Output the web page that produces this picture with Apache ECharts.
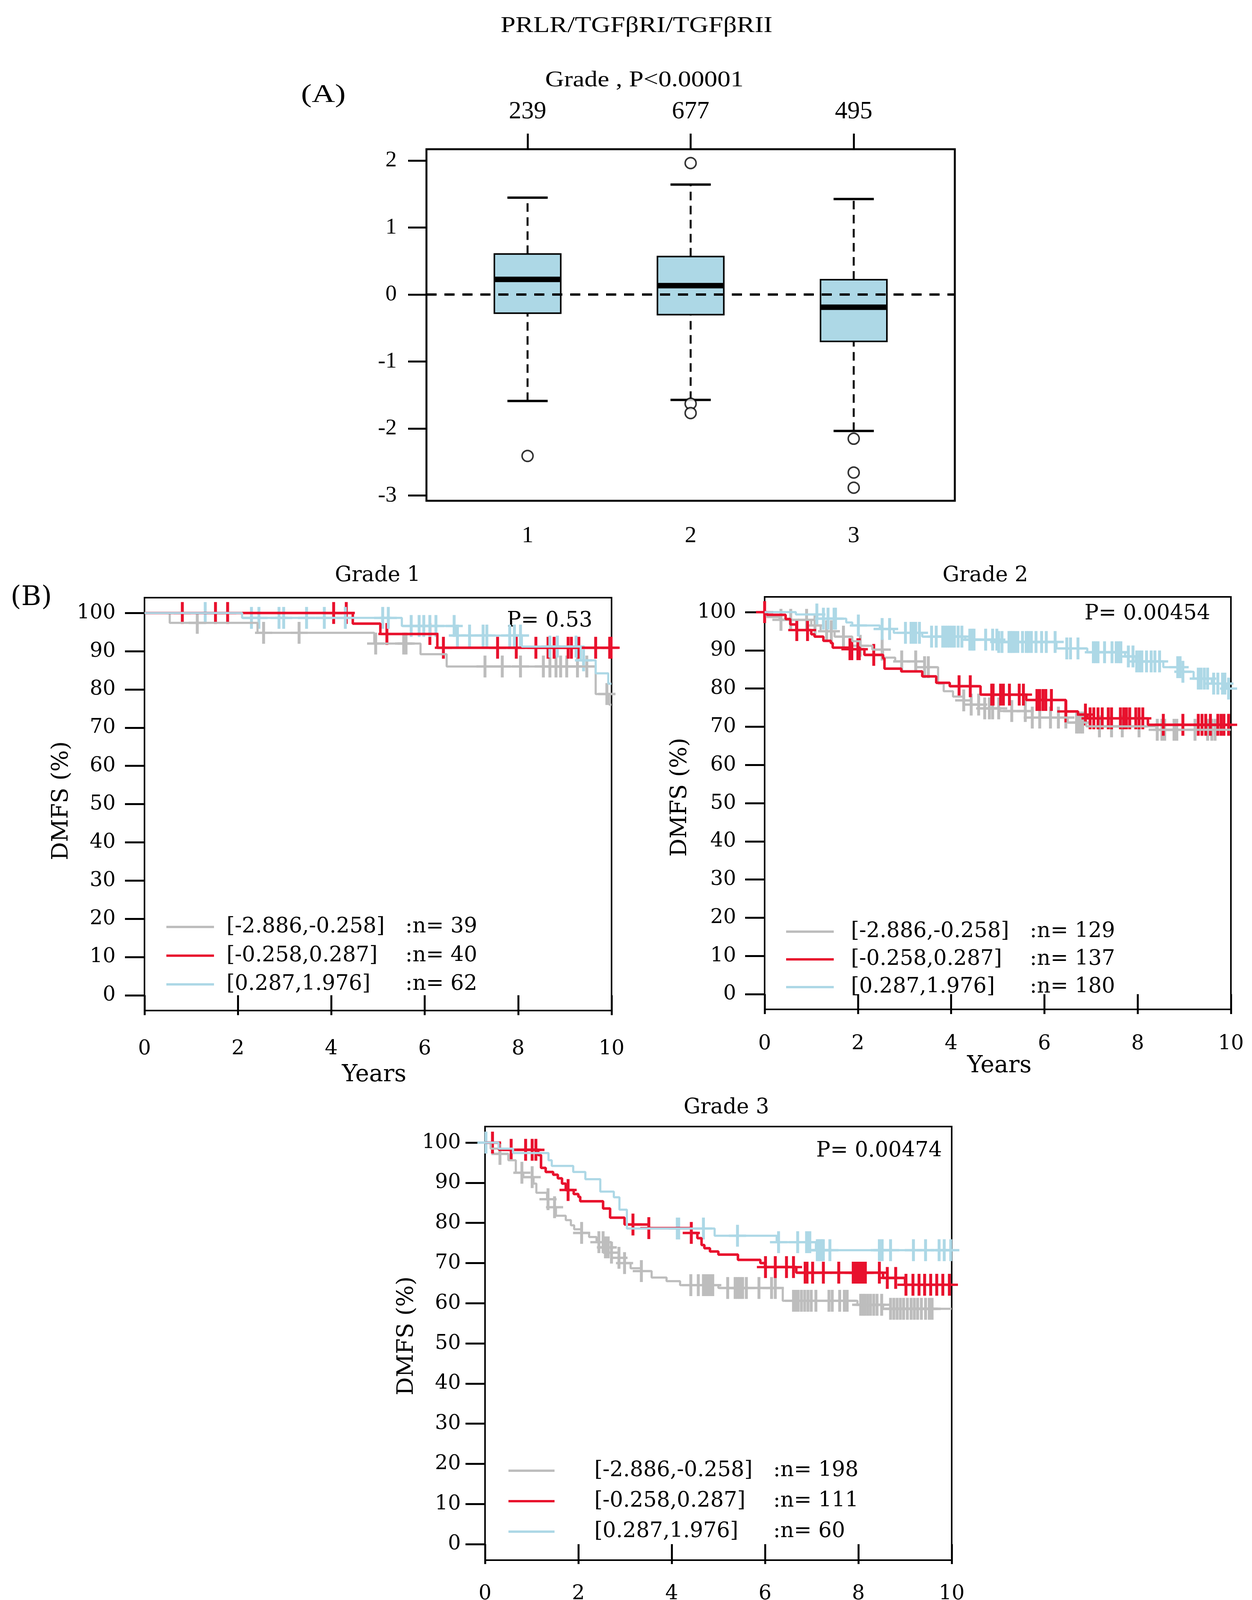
<!DOCTYPE html>
<html>
<head>
<meta charset="utf-8">
<title>PRLR/TGFβRI/TGFβRII</title>
<script src="https://cdn.jsdelivr.net/npm/echarts@6.0.0/dist/echarts.min.js"></script>
<style>
  html, body { margin: 0; padding: 0; background: #fff; }
  #main { width: 3206px; height: 4182px; }
</style>
</head>
<body>
<div id="main"></div>
<script>
// ---- data: (A) boxplot by grade ----
var gradeCats = [1, 2, 3];
var gradeCounts = [239, 677, 495];
var boxLow  = [-1.589, -1.574, -2.037];
var boxQ1   = [-0.279, -0.300, -0.700];
var boxMed  = [0.226, 0.132, -0.189];
var boxQ3   = [0.605, 0.568, 0.221];
var boxHigh = [1.447, 1.642, 1.426];
var outlierX = [1, 2, 2, 2, 3, 3, 3];
var outlierY = [-2.41, 1.963, -1.63, -1.77, -2.153, -2.658, -2.884];
var boxTicks = [-3, -2, -1, 0, 1, 2];

// ---- data: (B) DMFS curves ----
var groupRanges = ["[-2.886,-0.258]", "[-0.258,0.287]", "[0.287,1.976]"];
var g1N = [39, 40, 62];
var g2N = [129, 137, 180];
var g3N = [198, 111, 60];
var pValues = ["P= 0.53", "P= 0.00454", "P= 0.00474"];
var yearTicks = [0, 2, 4, 6, 8, 10];
var dmfsTicks = [0, 10, 20, 30, 40, 50, 60, 70, 80, 90, 100];

// grade 1
var g1GrayT = [0, 0.54, 2.42, 4.92, 5.91, 6.47, 9.66, 9.95];
var g1GrayS = [100, 97.4, 94.8, 92.0, 89.2, 86.0, 78.8, 76.0];
var g1GrayCens = [1.13, 2.55, 3.31, 4.95, 5.55, 5.6, 7.29, 7.66, 8.05, 8.54, 8.68, 8.81, 8.91, 9.04, 9.27, 9.47, 9.9];
var g1RedT = [0, 4.46, 5.05, 6.27];
var g1RedS = [100, 97.2, 94.5, 90.9];
var g1RedCens = [0.81, 1.52, 1.78, 4.05, 4.32, 5.19, 6.11, 6.4, 7.56, 7.96, 8.38, 8.64, 8.77, 9.07, 9.14, 9.3, 9.66, 9.96, 9.99];
var g1BlueT = [0, 2.09, 5.51, 6.67, 8.08, 9.34, 9.66, 9.93];
var g1BlueS = [100, 98.7, 96.6, 94.1, 91.2, 87.6, 84.2, 81.5];
var g1BlueCens = [1.30, 2.29, 2.45, 2.88, 2.98, 3.47, 3.85, 4.3, 5.1, 5.22, 5.71, 5.88, 5.98, 6.11, 6.24, 6.63, 6.7, 6.96, 7.25, 7.33, 7.82, 7.92, 8.05, 8.68, 8.84, 9.24, 9.4];

// grade 2
var g2GrayT = [0, 0.05, 0.32, 1.0, 1.2, 1.5, 1.88, 2.05, 2.31, 2.54, 2.8, 3.25, 3.72, 3.84, 4.04, 4.27, 4.43, 4.72, 5.04, 5.6, 6.5, 6.9, 8.4];
var g2GrayS = [100, 98.7, 98.0, 96.5, 95.0, 93.6, 92.4, 91.2, 90.2, 88.1, 87.1, 85.6, 81.3, 79.3, 77.9, 76.9, 75.8, 74.8, 74.1, 72.4, 71.1, 70.1, 69.2];
var g2GrayCens = [0.35, 0.56, 0.9, 1.08, 1.33, 1.43, 1.69, 2.05, 2.52, 2.94, 3.24, 3.43, 3.51, 4.27, 4.43, 4.59, 4.72, 4.82, 4.89, 5.02, 5.3, 5.59, 5.74, 5.9, 6.13, 6.3, 6.46, 6.69, 6.73, 6.78, 6.82, 7.18, 7.44, 7.67, 8.03, 8.42, 8.52, 8.58, 8.78, 8.84, 9.23, 9.5, 9.59, 9.66];
var g2RedT = [0, 0.05, 0.45, 0.55, 0.68, 1.0, 1.07, 1.26, 1.42, 1.46, 1.82, 2.14, 2.54, 2.57, 2.93, 3.38, 3.68, 3.97, 4.63, 5.61, 6.46, 6.72, 6.92, 8.22];
var g2RedS = [100, 99.3, 98.2, 96.8, 95.3, 94.2, 93.6, 92.5, 91.9, 90.7, 90.3, 88.8, 87.9, 85.2, 84.5, 83.2, 81.5, 80.6, 78.4, 77.0, 74.0, 73.2, 72.2, 70.5];
var g2RedCens = [0.0, 0.69, 0.92, 1.83, 1.87, 2.0, 2.03, 2.34, 4.17, 4.41, 4.87, 4.9, 5.06, 5.12, 5.25, 5.46, 5.55, 5.84, 5.9, 5.97, 6.03, 6.15, 6.46, 6.88, 6.98, 7.06, 7.15, 7.24, 7.37, 7.44, 7.63, 7.7, 7.76, 7.83, 7.96, 8.03, 8.11, 8.55, 8.97, 9.3, 9.38, 9.46, 9.56, 9.72, 9.79, 9.85, 9.95];
var g2BlueT = [0, 0.67, 1.13, 1.75, 1.88, 2.47, 2.77, 3.38, 4.3, 5.0, 6.26, 6.92, 7.73, 7.96, 8.55, 8.97, 9.2, 9.59, 9.9];
var g2BlueS = [100, 99.4, 98.3, 97.3, 96.5, 95.6, 94.6, 93.6, 92.8, 92.2, 90.5, 89.5, 88.4, 87.1, 85.6, 84.4, 82.6, 81.3, 80.0];
var g2BlueCens = [1.12, 1.26, 1.36, 1.49, 1.52, 2.01, 2.52, 2.68, 3.02, 3.14, 3.19, 3.24, 3.32, 3.58, 3.68, 3.82, 3.87, 3.92, 3.97, 4.02, 4.07, 4.15, 4.23, 4.4, 4.45, 4.49, 4.74, 4.89, 4.98, 5.02, 5.09, 5.24, 5.28, 5.32, 5.37, 5.43, 5.53, 5.61, 5.66, 5.72, 5.82, 5.94, 6.04, 6.23, 6.48, 6.56, 6.72, 7.05, 7.1, 7.15, 7.29, 7.45, 7.54, 7.6, 7.64, 7.8, 7.9, 7.98, 8.04, 8.09, 8.19, 8.29, 8.37, 8.47, 8.86, 8.91, 8.97, 9.3, 9.36, 9.43, 9.5, 9.63, 9.72, 9.82, 9.87, 9.95];

// grade 3
var g3GrayT = [0, 0.12, 0.31, 0.5, 0.66, 0.82, 1.04, 1.1, 1.33, 1.49, 1.52, 1.73, 1.84, 1.91, 2.07, 2.23, 2.39, 2.55, 2.71, 2.87, 2.99, 3.12, 3.35, 3.57, 3.89, 4.18, 5.0, 6.38, 7.98, 8.53];
var g3GrayS = [100, 98.5, 97.2, 95.6, 92.5, 91.4, 89.8, 87.5, 85.9, 83.9, 81.8, 80.7, 79.4, 78.4, 77.5, 76.5, 75.2, 73.9, 72.6, 71.3, 70.0, 68.7, 68.0, 66.4, 65.5, 64.5, 63.8, 60.6, 59.6, 58.6];
var g3GrayCens = [0.32, 0.79, 1.01, 1.35, 1.49, 2.07, 2.44, 2.53, 2.58, 2.64, 2.71, 2.87, 2.99, 3.35, 4.41, 4.57, 4.68, 4.73, 4.78, 4.83, 4.88, 5.2, 5.36, 5.41, 5.46, 5.52, 5.6, 5.87, 6.14, 6.22, 6.61, 6.66, 6.71, 6.78, 6.85, 6.92, 6.99, 7.09, 7.37, 7.44, 7.6, 7.7, 7.76, 8.05, 8.1, 8.14, 8.2, 8.26, 8.33, 8.4, 8.5, 8.69, 8.76, 8.83, 8.9, 8.97, 9.05, 9.13, 9.2, 9.27, 9.35, 9.44, 9.52, 9.58];
var g3RedT = [0, 0.3, 1.14, 1.2, 1.3, 1.46, 1.56, 1.65, 1.73, 1.9, 2.0, 2.04, 2.53, 2.68, 2.99, 3.51, 4.42, 4.55, 4.64, 4.7, 4.82, 5.0, 5.42, 5.9, 6.0, 6.67, 8.53, 9.0];
var g3RedS = [100, 98.2, 96.9, 93.7, 92.7, 92.0, 91.1, 89.8, 88.2, 87.2, 86.5, 85.4, 83.6, 81.3, 79.6, 78.7, 77.5, 76.2, 74.5, 73.7, 72.9, 72.1, 70.8, 70.0, 69.0, 67.6, 66.3, 64.6];
var g3RedCens = [0.16, 0.56, 0.87, 1.01, 1.09, 1.78, 3.17, 3.51, 4.42, 6.01, 6.22, 6.46, 6.61, 6.86, 6.9, 7.02, 7.25, 7.58, 7.89, 7.93, 7.97, 8.0, 8.04, 8.08, 8.12, 8.15, 8.45, 8.62, 8.8, 9.02, 9.17, 9.3, 9.42, 9.55, 9.68, 9.81, 9.95];
var g3BlueT = [0, 0.29, 0.6, 1.36, 1.43, 1.89, 2.15, 2.47, 2.76, 2.88, 3.04, 4.92, 6.25, 7.09];
var g3BlueS = [100, 98.5, 97.4, 95.6, 94.2, 92.7, 90.9, 87.8, 86.4, 83.3, 78.6, 76.8, 75.2, 73.2];
var g3BlueCens = [0.02, 4.12, 4.15, 4.68, 5.41, 6.29, 6.7, 6.89, 6.93, 6.96, 7.12, 7.15, 7.19, 7.22, 7.25, 7.39, 8.45, 8.51, 8.69, 9.18, 9.44, 9.73, 9.84, 9.98];

var GRAY = "#bdbdbd", RED = "#e8112d", BLUE = "#add8e6";
var SERIF = "'DejaVu Serif', serif";
var TIMES = "'Liberation Serif', serif";
// censoring "+" mark
var PLUS = "path://M41.5,0H58.5V44.6H100V55.4H58.5V100H41.5V55.4H0V44.6H41.5Z";

var myChart = echarts.init(document.getElementById("main"), null, { renderer: "canvas" });

// KM step value at time t
function survAt(t, times, probs) {
    var s = probs[0];
    for (var i = 0; i < times.length; i++) {
        if (times[i] <= t) s = probs[i];
    }
    return s;
}

function kmSeries(axisIdx, name, color, width, times, probs, cens) {
    var line = times.map(function (t, i) { return [t, probs[i]]; });
    line.push([10, probs[probs.length - 1]]);
    var marks = cens.map(function (t) { return [t, survAt(t, times, probs)]; });
    return [
        {
            name: name, type: "line", xAxisIndex: axisIdx + 2, yAxisIndex: axisIdx + 1,
            step: "end", symbol: "none", data: line,
            itemStyle: { color: color }, lineStyle: { color: color, width: width }
        },
        {
            name: name + " censored", type: "scatter", xAxisIndex: axisIdx + 2, yAxisIndex: axisIdx + 1,
            symbol: PLUS, symbolSize: [44, 56], data: marks,
            itemStyle: { color: color, opacity: 1 }
        }
    ];
}

function kmX(gi, margin) {
    return {
        type: "value", gridIndex: gi, min: 0, max: 10,
        axisLine: { show: false },
        axisTick: { show: true, customValues: yearTicks, length: 51, lineStyle: { color: "#000", width: 5 } },
        axisLabel: { customValues: yearTicks, margin: margin, fontFamily: SERIF, fontSize: 52, color: "#000" },
        splitLine: { show: false }
    };
}
function kmY(gi, margin) {
    return {
        type: "value", gridIndex: gi, min: -4, max: 104,
        axisLine: { show: false },
        axisTick: { show: true, customValues: dmfsTicks, length: 50, lineStyle: { color: "#000", width: 5 } },
        axisLabel: { customValues: dmfsTicks, margin: margin, fontFamily: SERIF, fontSize: 52, color: "#000" },
        splitLine: { show: false }
    };
}
function kmLegend(ns, left, top, gap, iconW, textPad) {
    var colors = [GRAY, RED, BLUE];
    return {
        orient: "vertical", left: left, top: top, itemGap: gap, padding: 0,
        itemWidth: iconW, itemHeight: 6, icon: "rect", selectedMode: false,
        data: groupRanges.map(function (r, i) {
            return { name: r + " :n= " + ns[i], itemStyle: { color: colors[i] } };
        }),
        formatter: function (name) {
            var p = name.split(" :");
            return "{a|" + p[0] + "}{b|:" + p[1] + "}";
        },
        textStyle: {
            color: "#000", fontFamily: SERIF, fontSize: 54, padding: [0, 0, 0, textPad],
            rich: {
                a: { width: 458, fontFamily: SERIF, fontSize: 54, color: "#000" },
                b: { fontFamily: SERIF, fontSize: 54, color: "#000" }
            }
        }
    };
}
function label(text, x, y, font, size, align, rot, sx) {
    return {
        type: "text", x: x, y: y, rotation: rot || 0, scaleX: sx || 1, silent: true,
        style: {
            text: text, fill: "#000", fontFamily: font, fontSize: size,
            font: size + "px " + font,
            align: align || "center", verticalAlign: "middle",
            textAlign: align || "center", textVerticalAlign: "middle"
        }
    };
}

var boxData = gradeCats.map(function (g, i) {
    return [g, boxLow[i], boxQ1[i], boxMed[i], boxQ3[i], boxHigh[i]];
});

function renderBox(params, api) {
    var x = api.value(0);
    var lo = api.coord([x, api.value(1)]);
    var q1 = api.coord([x, api.value(2)]);
    var md = api.coord([x, api.value(3)]);
    var q3 = api.coord([x, api.value(4)]);
    var hi = api.coord([x, api.value(5)]);
    var hw = api.size([0.407, 0])[0] / 2;
    var cw = api.size([0.247, 0])[0] / 2;
    var dash = { stroke: "#000", lineWidth: 5, lineDash: [22, 14] };
    return {
        type: "group",
        children: [
            { type: "line", shape: { x1: lo[0], y1: lo[1], x2: q1[0], y2: q1[1] }, style: dash },
            { type: "line", shape: { x1: q3[0], y1: q3[1], x2: hi[0], y2: hi[1] }, style: dash },
            { type: "line", shape: { x1: lo[0] - cw, y1: lo[1], x2: lo[0] + cw, y2: lo[1] }, style: { stroke: "#000", lineWidth: 6 } },
            { type: "line", shape: { x1: hi[0] - cw, y1: hi[1], x2: hi[0] + cw, y2: hi[1] }, style: { stroke: "#000", lineWidth: 6 } },
            { type: "rect", shape: { x: q3[0] - hw, y: q3[1], width: hw * 2, height: q1[1] - q3[1] },
              style: { fill: BLUE, stroke: "#000", lineWidth: 4 } },
            { type: "line", shape: { x1: md[0] - hw, y1: md[1], x2: md[0] + hw, y2: md[1] }, style: { stroke: "#000", lineWidth: 14 } }
        ]
    };
}

var series = [
    {
        name: "box", type: "custom", xAxisIndex: 0, yAxisIndex: 0,
        renderItem: renderBox, data: boxData,
        encode: { x: 0, y: [1, 2, 3, 4, 5] }
    },
    {
        name: "zero", type: "line", xAxisIndex: 0, yAxisIndex: 0, symbol: "none", z: 5,
        data: [[0.38, 0], [3.62, 0]],
        lineStyle: { color: "#000", width: 6, type: [26, 20] }
    },
    {
        name: "outliers", type: "scatter", xAxisIndex: 0, yAxisIndex: 0,
        symbol: "circle", symbolSize: 28,
        data: outlierX.map(function (x, i) { return [x, outlierY[i]]; }),
        itemStyle: { color: "#fff", borderColor: "#000", borderWidth: 4 }
    }
];

var kmSets = [
    [g1N, [g1GrayT, g1GrayS, g1GrayCens], [g1RedT, g1RedS, g1RedCens], [g1BlueT, g1BlueS, g1BlueCens]],
    [g2N, [g2GrayT, g2GrayS, g2GrayCens], [g2RedT, g2RedS, g2RedCens], [g2BlueT, g2BlueS, g2BlueCens]],
    [g3N, [g3GrayT, g3GrayS, g3GrayCens], [g3RedT, g3RedS, g3RedCens], [g3BlueT, g3BlueS, g3BlueCens]]
];
var kmColors = [GRAY, RED, BLUE];
var kmWidths = [5.5, 6.5, 5.5];
kmSets.forEach(function (set, k) {
    for (var j = 0; j < 3; j++) {
        var c = set[j + 1];
        series = series.concat(kmSeries(k, groupRanges[j] + " :n= " + set[0][j], kmColors[j], kmWidths[j], c[0], c[1], c[2]));
    }
});

var option = {
    backgroundColor: "#fff",
    animation: false,
    grid: [
        { left: 1092, top: 382, width: 1353, height: 900, show: true, borderColor: "#000", borderWidth: 5, backgroundColor: "transparent" },
        { left: 370, top: 1530, width: 1196, height: 1057, show: true, borderColor: "#000", borderWidth: 4, backgroundColor: "transparent" },
        { left: 1958, top: 1528, width: 1194, height: 1056, show: true, borderColor: "#000", borderWidth: 4, backgroundColor: "transparent" },
        { left: 1242, top: 2884, width: 1195, height: 1110, show: true, borderColor: "#000", borderWidth: 4, backgroundColor: "transparent" }
    ],
    xAxis: [
        {
            type: "value", gridIndex: 0, min: 0.38, max: 3.62, position: "bottom",
            axisLine: { show: false },
            axisTick: { customValues: gradeCats, length: 41, lineStyle: { color: "#000", width: 5 } },
            axisLabel: { customValues: gradeCats, margin: 60, fontFamily: TIMES, fontSize: 60, color: "#000" },
            splitLine: { show: false }
        },
        {
            type: "value", gridIndex: 0, min: 0.38, max: 3.62, position: "top",
            axisLine: { show: false },
            axisTick: { customValues: gradeCats, length: 40, lineStyle: { color: "#000", width: 5 } },
            axisLabel: {
                customValues: gradeCats, margin: 64, fontFamily: TIMES, fontSize: 64, color: "#000",
                formatter: function (v) { return String(gradeCounts[gradeCats.indexOf(Math.round(v))]); }
            },
            splitLine: { show: false }
        },
        kmX(1, 72), kmX(2, 62), kmX(3, 60)
    ],
    yAxis: [
        {
            type: "value", gridIndex: 0, min: -3.08, max: 2.17,
            axisLine: { show: false },
            axisTick: { customValues: boxTicks, length: 47, lineStyle: { color: "#000", width: 5 } },
            axisLabel: { customValues: boxTicks, margin: 76, fontFamily: TIMES, fontSize: 58, color: "#000" },
            splitLine: { show: false }
        },
        kmY(1, 74), kmY(2, 73), kmY(3, 62)
    ],
    legend: [
        kmLegend(g1N, 426, 2346, 19.5, 122, 27),
        kmLegend(g2N, 2013, 2358, 17, 122, 39),
        kmLegend(g3N, 1302, 3738, 24, 118, 97)
    ],
    graphic: [
        label("PRLR/TGFβRI/TGFβRII", 1630, 67, TIMES, 56, "center", 0, 1.22),
        label("Grade , P<0.00001", 1650, 206, TIMES, 56, "center", 0, 1.2),
        label("(A)", 828, 244, TIMES, 66, "center", 0, 1.25),
        label("(B)", 80, 1531, SERIF, 70),
        label("Grade 1", 967, 1474, SERIF, 54),
        label("Grade 2", 2523, 1474, SERIF, 54),
        label("Grade 3", 1860, 2836, SERIF, 54),
        label(pValues[0], 1517, 1590, SERIF, 54, "right"),
        label(pValues[1], 3099, 1572, SERIF, 54, "right"),
        label(pValues[2], 2412, 2947, SERIF, 54, "right"),
        label("Years", 958, 2752, SERIF, 60),
        label("Years", 2559, 2729, SERIF, 60),
        label("Years", 1843, 4138, SERIF, 60),
        label("DMFS (%)", 158, 2050, SERIF, 58, "center", Math.PI / 2),
        label("DMFS (%)", 1742, 2041, SERIF, 58, "center", Math.PI / 2),
        label("DMFS (%)", 1042, 3420, SERIF, 58, "center", Math.PI / 2)
    ],
    series: series
};

myChart.setOption(option);
</script>
</body>
</html>
